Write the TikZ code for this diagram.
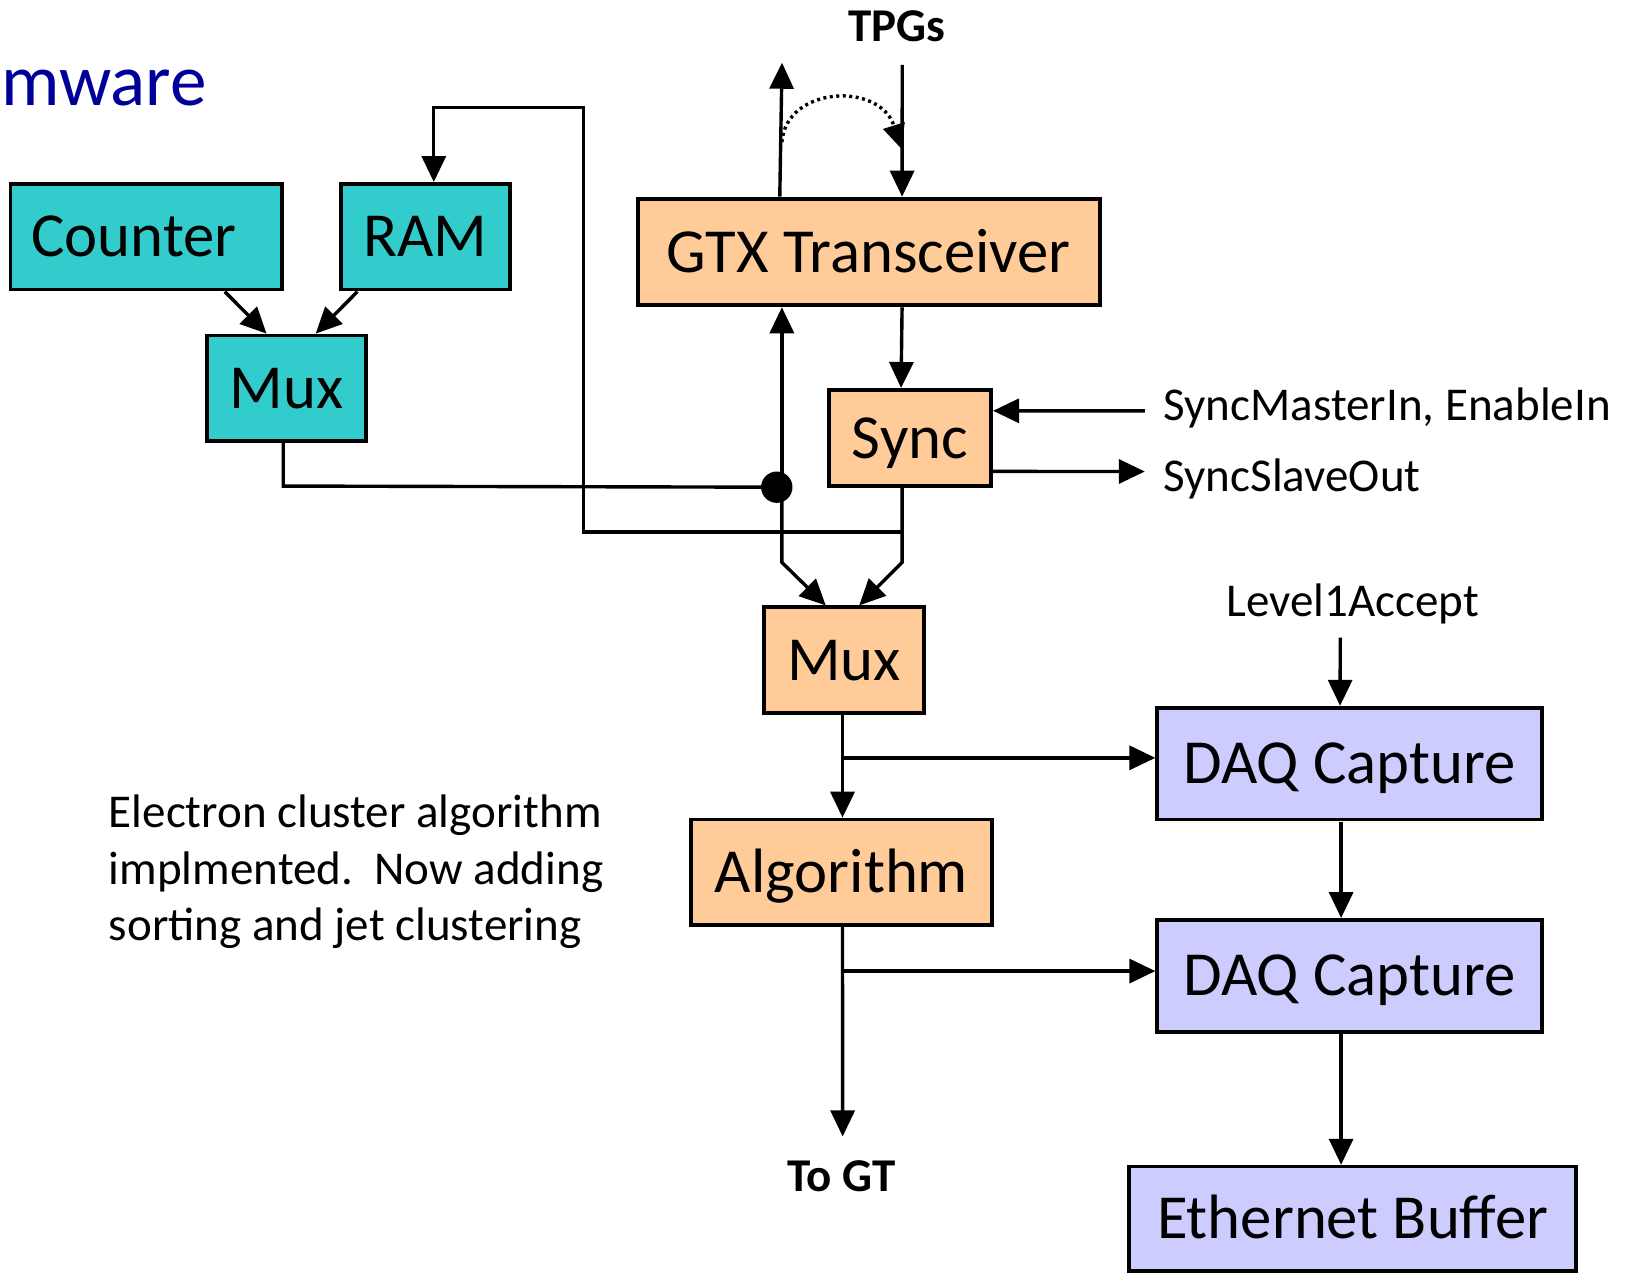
\documentclass[tikz,border=0pt]{standalone}
\usepackage{fontspec}
\setmainfont{Carlito}
\usetikzlibrary{arrows.meta,calc}
\definecolor{tealbox}{HTML}{33CCCC}
\definecolor{peach}{HTML}{FFCC99}
\definecolor{lilac}{HTML}{CCCCFF}
\definecolor{titleblue}{HTML}{000099}
\tikzset{
  blk/.style={draw=black, line width=3.8pt, inner sep=0pt,
    font=\fontsize{60}{72}\selectfont, text height=38.6pt, text depth=0pt},
  lbl/.style={font=\fontsize{45}{54}\selectfont, inner sep=0pt},
  boldlbl/.style={font=\fontsize{45}{54}\selectfont\bfseries, inner sep=0pt},
  wire/.style={line width=3.4pt},
  arr/.style={line width=3.4pt, -{Triangle[length=26pt,width=24pt]}},
}
\begin{document}
\begin{tikzpicture}[x=1pt, y=-1pt, scale=1.0453, every node/.style={transform shape}]
\useasboundingbox (0,0) rectangle (1568,1218);

% title fragment
\node[anchor=base west, inner sep=0pt, text=titleblue,
      font=\fontsize{70}{84}\selectfont] (title) at (1,101) {mware};

% test-pattern sources
\node[blk, fill=tealbox, minimum width=260, minimum height=101,
      text width=220, align=left] (counter) at (140,226.5) {Counter};
\node[blk, fill=tealbox, minimum width=162, minimum height=101] (ram) at (407,226.5) {RAM};
\node[blk, fill=tealbox, minimum width=152, minimum height=101] (mux1) at (274,371.5) {Mux};

% link path
\node[blk, fill=peach, minimum width=442, minimum height=102] (gtx) at (831,241) {GTX Transceiver};
\node[blk, fill=peach, minimum width=155, minimum height=92] (sync) at (870.5,419) {Sync};
\node[blk, fill=peach, minimum width=153, minimum height=101] (mux2) at (807.5,631.5) {Mux};
\node[blk, fill=peach, minimum width=288, minimum height=101] (alg) at (805,834.5) {Algorithm};

% readout
\node[blk, fill=lilac, minimum width=368, minimum height=107] (daq1) at (1291,730.5) {DAQ Capture};
\node[blk, fill=lilac, minimum width=368, minimum height=107] (daq2) at (1291,933.5) {DAQ Capture};
\node[blk, fill=lilac, minimum width=428, minimum height=100] (eth) at (1294,1166) {Ethernet Buffer};

% labels
\node[boldlbl, anchor=base] (tpgs) at (858,40) {TPGs};
\node[boldlbl, anchor=base] (togt) at (805,1140) {To GT};
\node[lbl, anchor=base west] (smi) at (1113,402) {SyncMasterIn, EnableIn};
\node[lbl, anchor=base west] (sso) at (1113,470) {SyncSlaveOut};
\node[lbl, anchor=base] (l1a) at (1294,590) {Level1Accept};
\node[lbl, anchor=base west, align=left] (note) at (104,900)
  {Electron cluster algorithm\\implmented.\ \ Now adding\\sorting and jet clustering};

% free ends of connectors
\coordinate (upout) at (748,60);
\coordinate (tpgsin) at (863,62);
\coordinate (smiend) at (1095,393);
\coordinate (ssoend) at (1095,451);
\coordinate (l1ain) at (1282,610);
\coordinate (togtend) at (806,1087);
\coordinate (dot) at (743,466);
\coordinate (fb) at (863,509);

% counter/RAM into mux
\draw[arr] (counter.south -| 215,0) -- (mux1.north -| 255,0);
\draw[arr] (ram.south -| 342,0) -- (mux1.north -| 302,0);

% mux output to junction
\draw[wire] (mux1.south -| 271,0) -- (271,465) -- (dot);
\fill (dot) circle[radius=15];
\draw[arr] (748,466) -- (gtx.south -| 748,0);
\draw[arr] (748,466) -- (748,538) -- (mux2.north -| 790,0);

% transceiver links
\draw[arr] (gtx.north -| 746,0) -- (upout);
\draw[arr] (tpgsin) -- (gtx.north -| 863,0);
\draw[line width=3.4pt, dash pattern=on 3pt off 3.5pt, -{Triangle[length=24pt,width=22pt]}]
  (748,136) .. controls (752,82) and (842,78) .. (862,142);
\draw[arr] (gtx.south -| 863,0) -- (sync.north -| 862,0);

% sync in/out
\draw[arr] (smiend) -- (sync.east |- 0,393);
\draw[arr] (sync.east |- 0,451) -- (ssoend);

% sync output to mux and back to RAM
\draw[arr] (sync.south -| 863,0) -- (863,538) -- (mux2.north -| 822,0);
\draw[arr] (fb) -| (558,103) -| (ram.north -| 415,0);

% mux to algorithm and capture
\draw[arr] (mux2.south -| 806,0) -- (alg.north -| 806,0);
\draw[arr] (806,725) -- (daq1.west |- 0,725);
\draw[arr] (alg.south -| 806,0) -- (togtend);
\draw[arr] (806,929) -- (daq2.west |- 0,929);

% readout chain
\draw[arr] (l1ain) -- (daq1.north -| 1282,0);
\draw[arr] (daq1.south -| 1283,0) -- (daq2.north -| 1283,0);
\draw[arr] (daq2.south -| 1283,0) -- (eth.north -| 1283,0);
\end{tikzpicture}
\end{document}
